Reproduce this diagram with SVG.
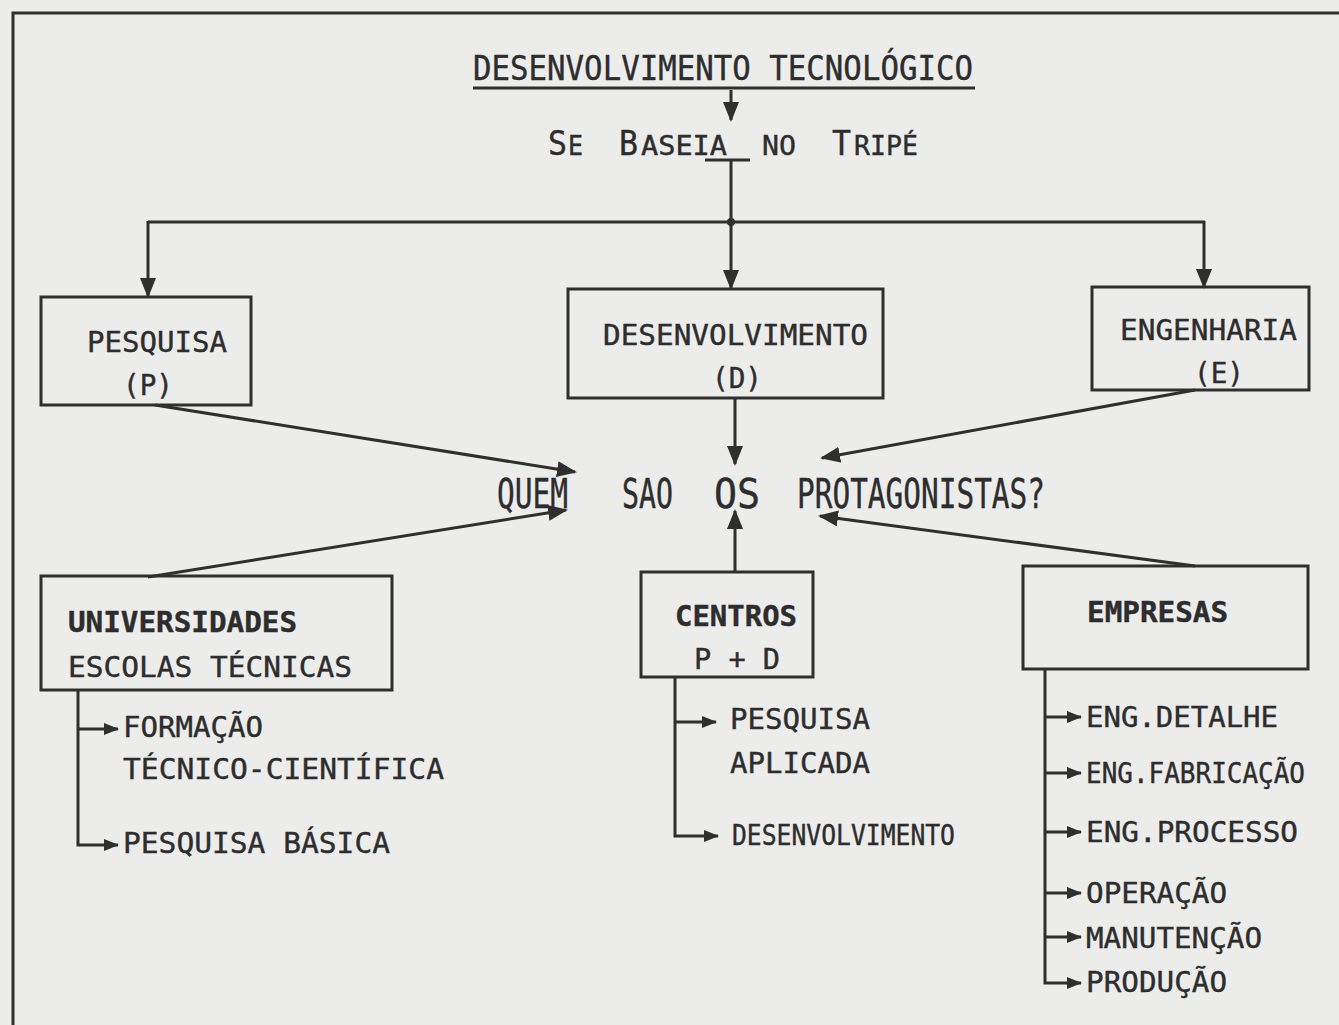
<svg xmlns="http://www.w3.org/2000/svg" width="1339" height="1025" viewBox="0 0 1339 1025">
<defs>
<style>
text{font-family:"DejaVu Sans Mono","Liberation Mono",monospace;fill:#2d2d2d;stroke:#2d2d2d;stroke-width:0.4}
.t{font-size:28px}
.b{font-weight:bold}
.box{fill:none;stroke:#2f2f2f;stroke-width:3}
.ln{fill:none;stroke:#2f2f2f;stroke-width:3}
</style>
<marker id="ah" viewBox="0 0 20 16" refX="18" refY="8" markerWidth="20" markerHeight="16" markerUnits="userSpaceOnUse" orient="auto">
<path d="M0,0 L20,8 L0,16 Z" fill="#2f2f2f"/>
</marker>
<marker id="ahs" viewBox="0 0 15 12" refX="14" refY="6" markerWidth="15" markerHeight="12" markerUnits="userSpaceOnUse" orient="auto">
<path d="M0,0 L15,6 L0,12 Z" fill="#2f2f2f"/>
</marker>
</defs>
<rect width="1339" height="1025" fill="#ececeb"/>
<g id="frame">
<path class="ln" d="M13,1025 L13,13 L1339,13"/>
</g>

<g id="title">
<text x="473" y="80" font-size="34" textLength="500" lengthAdjust="spacingAndGlyphs">DESENVOLVIMENTO TECNOLÓGICO</text>
<line class="ln" x1="473" y1="88" x2="975" y2="88"/>
</g>

<g id="tripe">
<text x="548" y="155" font-size="33" textLength="19" lengthAdjust="spacingAndGlyphs">S</text>
<text x="568" y="155" font-size="26" textLength="15" lengthAdjust="spacingAndGlyphs">E</text>
<text x="619" y="155" font-size="33" textLength="19" lengthAdjust="spacingAndGlyphs">B</text>
<text x="641" y="155" font-size="26" textLength="86" lengthAdjust="spacingAndGlyphs">ASEIA</text>
<text x="762" y="155" font-size="26" textLength="34" lengthAdjust="spacingAndGlyphs">NO</text>
<text x="832" y="155" font-size="33" textLength="19" lengthAdjust="spacingAndGlyphs">T</text>
<text x="854" y="155" font-size="26" textLength="64" lengthAdjust="spacingAndGlyphs">RIPÉ</text>
<line class="ln" x1="705" y1="160" x2="750" y2="160" stroke-width="4"/>
</g>

<g id="pesquisa">
<rect class="box" x="41" y="297" width="210" height="108"/>
<text class="t" x="87" y="352" textLength="140" lengthAdjust="spacingAndGlyphs">PESQUISA</text>
<text class="t" x="123" y="395" textLength="50" lengthAdjust="spacingAndGlyphs">(P)</text>
</g>

<g id="desenvolvimento">
<rect class="box" x="568" y="289" width="315" height="109"/>
<text class="t" x="603" y="345" textLength="265" lengthAdjust="spacingAndGlyphs">DESENVOLVIMENTO</text>
<text class="t" x="712" y="388" textLength="50" lengthAdjust="spacingAndGlyphs">(D)</text>
</g>

<g id="engenharia">
<rect class="box" x="1092" y="287" width="217" height="103"/>
<text class="t" x="1120" y="340" textLength="177" lengthAdjust="spacingAndGlyphs">ENGENHARIA</text>
<text class="t" x="1194" y="383" textLength="50" lengthAdjust="spacingAndGlyphs">(E)</text>
</g>

<g id="protagonistas">
<text x="497" y="508" font-size="40" textLength="71" lengthAdjust="spacingAndGlyphs">QUEM</text>
<text x="622" y="508" font-size="40" textLength="51" lengthAdjust="spacingAndGlyphs">SAO</text>
<text x="714" y="508" font-size="40" textLength="46" lengthAdjust="spacingAndGlyphs">OS</text>
<text x="797" y="508" font-size="40" textLength="248" lengthAdjust="spacingAndGlyphs">PROTAGONISTAS?</text>
</g>

<g id="universidades">
<rect class="box" x="41" y="576" width="351" height="114"/>
<text class="t b" x="68" y="632" textLength="229" lengthAdjust="spacingAndGlyphs">UNIVERSIDADES</text>
<text class="t" x="68" y="677" textLength="284" lengthAdjust="spacingAndGlyphs">ESCOLAS TÉCNICAS</text>
<text class="t" x="123" y="737" textLength="140" lengthAdjust="spacingAndGlyphs">FORMAÇÃO</text>
<text class="t" x="123" y="779" textLength="321" lengthAdjust="spacingAndGlyphs">TÉCNICO-CIENTÍFICA</text>
<text class="t" x="123" y="853" textLength="267" lengthAdjust="spacingAndGlyphs">PESQUISA BÁSICA</text>
</g>

<g id="centros">
<rect class="box" x="641" y="572" width="172" height="105"/>
<text class="t b" x="675" y="626" textLength="122" lengthAdjust="spacingAndGlyphs">CENTROS</text>
<text class="t" x="694" y="669" textLength="86" lengthAdjust="spacingAndGlyphs">P + D</text>
<text class="t" x="730" y="729" textLength="140" lengthAdjust="spacingAndGlyphs">PESQUISA</text>
<text class="t" x="730" y="773" textLength="140" lengthAdjust="spacingAndGlyphs">APLICADA</text>
<text class="t" x="732" y="845" textLength="223" lengthAdjust="spacingAndGlyphs">DESENVOLVIMENTO</text>
</g>

<g id="empresas">
<rect class="box" x="1023" y="566" width="285" height="103"/>
<text class="t b" x="1087" y="622" textLength="141" lengthAdjust="spacingAndGlyphs">EMPRESAS</text>
<text class="t" x="1086" y="727" textLength="192" lengthAdjust="spacingAndGlyphs">ENG.DETALHE</text>
<text class="t" x="1086" y="783" textLength="219" lengthAdjust="spacingAndGlyphs">ENG.FABRICAÇÃO</text>
<text class="t" x="1086" y="842" textLength="212" lengthAdjust="spacingAndGlyphs">ENG.PROCESSO</text>
<text class="t" x="1086" y="903" textLength="141" lengthAdjust="spacingAndGlyphs">OPERAÇÃO</text>
<text class="t" x="1086" y="948" textLength="176" lengthAdjust="spacingAndGlyphs">MANUTENÇÃO</text>
<text class="t" x="1086" y="992" textLength="141" lengthAdjust="spacingAndGlyphs">PRODUÇÃO</text>
</g>

<g id="connectors">
<line class="ln" x1="731" y1="90" x2="731" y2="120" marker-end="url(#ah)"/>
<line class="ln" x1="731" y1="160" x2="731" y2="288" marker-end="url(#ah)"/>
<path class="ln" d="M148,222 L1205,222"/>
<circle cx="731" cy="222" r="4" fill="#2f2f2f"/>
<line class="ln" x1="148" y1="221" x2="148" y2="296" marker-end="url(#ah)"/>
<line class="ln" x1="1204" y1="221" x2="1204" y2="287" marker-end="url(#ah)"/>
<line class="ln" x1="155" y1="405" x2="575" y2="472" marker-end="url(#ah)"/>
<line class="ln" x1="735" y1="398" x2="735" y2="464" marker-end="url(#ah)"/>
<line class="ln" x1="1195" y1="390" x2="822" y2="458" marker-end="url(#ah)"/>
<line class="ln" x1="148" y1="577" x2="566" y2="510" marker-end="url(#ah)"/>
<line class="ln" x1="735" y1="572" x2="735" y2="511" marker-end="url(#ah)"/>
<line class="ln" x1="1195" y1="566" x2="820" y2="516" marker-end="url(#ah)"/>
<path class="ln" d="M78,690 L78,845 L118,845" marker-end="url(#ahs)"/>
<line class="ln" x1="78" y1="729" x2="118" y2="729" marker-end="url(#ahs)"/>
<path class="ln" d="M675,677 L675,836 L718,836" marker-end="url(#ahs)"/>
<line class="ln" x1="675" y1="722" x2="716" y2="722" marker-end="url(#ahs)"/>
<path class="ln" d="M1045,669 L1045,983 L1081,983" marker-end="url(#ahs)"/>
<line class="ln" x1="1045" y1="717" x2="1081" y2="717" marker-end="url(#ahs)"/>
<line class="ln" x1="1045" y1="773" x2="1081" y2="773" marker-end="url(#ahs)"/>
<line class="ln" x1="1045" y1="832" x2="1081" y2="832" marker-end="url(#ahs)"/>
<line class="ln" x1="1045" y1="893" x2="1081" y2="893" marker-end="url(#ahs)"/>
<line class="ln" x1="1045" y1="937" x2="1081" y2="937" marker-end="url(#ahs)"/>
</g>
</svg>
